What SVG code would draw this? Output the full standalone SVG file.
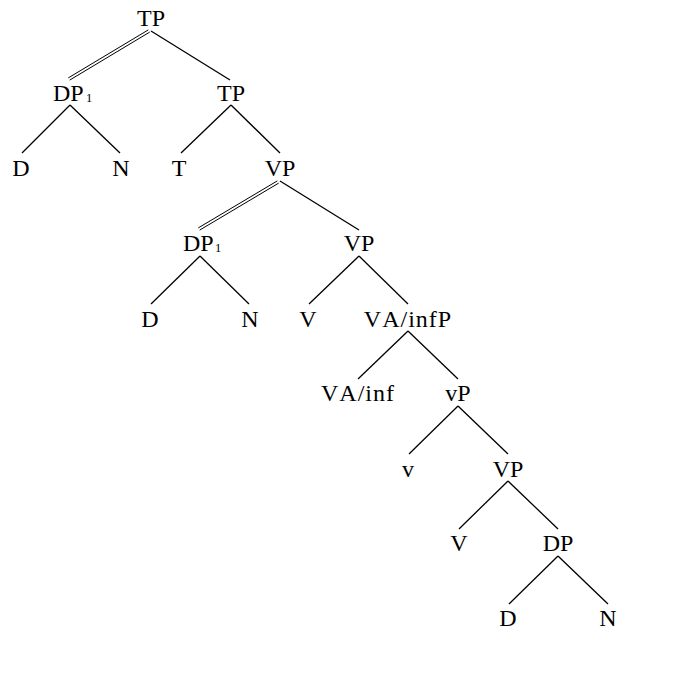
<svg xmlns="http://www.w3.org/2000/svg" width="687" height="700" viewBox="0 0 687 700">
<style>
text{font-family:"Liberation Serif","Times New Roman",serif;font-size:24px;fill:#000;font-kerning:none}
.m{text-anchor:middle}
.s{font-size:12.5px}
line{stroke:#000;stroke-width:1.3}
.d{stroke-width:1}
</style>
<rect width="687" height="700" fill="#fff"/>
<g id="connectors">
<line class="d" x1="68.3" y1="77.9" x2="148.3" y2="29.9"/>
<line class="d" x1="69.7" y1="80.1" x2="149.7" y2="32.1"/>
<line x1="151" y1="31" x2="230" y2="80"/>
<line x1="70" y1="105" x2="22" y2="153"/>
<line x1="70" y1="105" x2="120" y2="153"/>
<line x1="231" y1="105" x2="181" y2="153"/>
<line x1="231" y1="105" x2="280" y2="153"/>
<line class="d" x1="198.3" y1="227.9" x2="277.3" y2="180.9"/>
<line class="d" x1="199.7" y1="230.1" x2="278.7" y2="183.1"/>
<line x1="280" y1="181" x2="359" y2="230"/>
<line x1="200" y1="256" x2="151" y2="304"/>
<line x1="200" y1="256" x2="249" y2="304"/>
<line x1="359" y1="256" x2="309" y2="304"/>
<line x1="359" y1="256" x2="408" y2="304"/>
<line x1="408" y1="331" x2="358" y2="379"/>
<line x1="408" y1="331" x2="458" y2="379"/>
<line x1="458" y1="406" x2="409" y2="454"/>
<line x1="458" y1="406" x2="508" y2="454"/>
<line x1="508" y1="481" x2="459" y2="529"/>
<line x1="508" y1="481" x2="558" y2="529"/>
<line x1="558" y1="556" x2="509" y2="604"/>
<line x1="558" y1="556" x2="608" y2="604"/>
</g>
<g id="n_tp1"><text class="m" x="151" y="26">TP</text></g>
<g id="n_dp1"><text x="53" y="101">DP</text><text class="s" x="86" y="102">1</text></g>
<g id="n_tp2"><text class="m" x="231" y="101">TP</text></g>
<g id="n_d1"><text class="m" x="21" y="176">D</text></g>
<g id="n_n1"><text class="m" x="121" y="176">N</text></g>
<g id="n_t"><text class="m" x="179" y="176">T</text></g>
<g id="n_vp1"><text class="m" x="280" y="176">VP</text></g>
<g id="n_dp2"><text x="183" y="251">DP</text><text class="s" x="215" y="252">1</text></g>
<g id="n_vp2"><text class="m" x="359" y="251">VP</text></g>
<g id="n_d2"><text class="m" x="150" y="327">D</text></g>
<g id="n_n2"><text class="m" x="250" y="327">N</text></g>
<g id="n_v1"><text class="m" x="308" y="327">V</text></g>
<g id="n_vainfp"><text class="m" x="408" y="327" letter-spacing="1">VA/infP</text></g>
<g id="n_vainf"><text class="m" x="358" y="401" letter-spacing="1">VA/inf</text></g>
<g id="n_vsmallp"><text class="m" x="458" y="401">vP</text></g>
<g id="n_vsmall"><text class="m" x="408" y="477">v</text></g>
<g id="n_vp3"><text class="m" x="508" y="477">VP</text></g>
<g id="n_v2"><text class="m" x="459" y="551">V</text></g>
<g id="n_dp3"><text class="m" x="558" y="551">DP</text></g>
<g id="n_d3"><text class="m" x="508" y="626">D</text></g>
<g id="n_n3"><text class="m" x="608" y="626">N</text></g>
</svg>
